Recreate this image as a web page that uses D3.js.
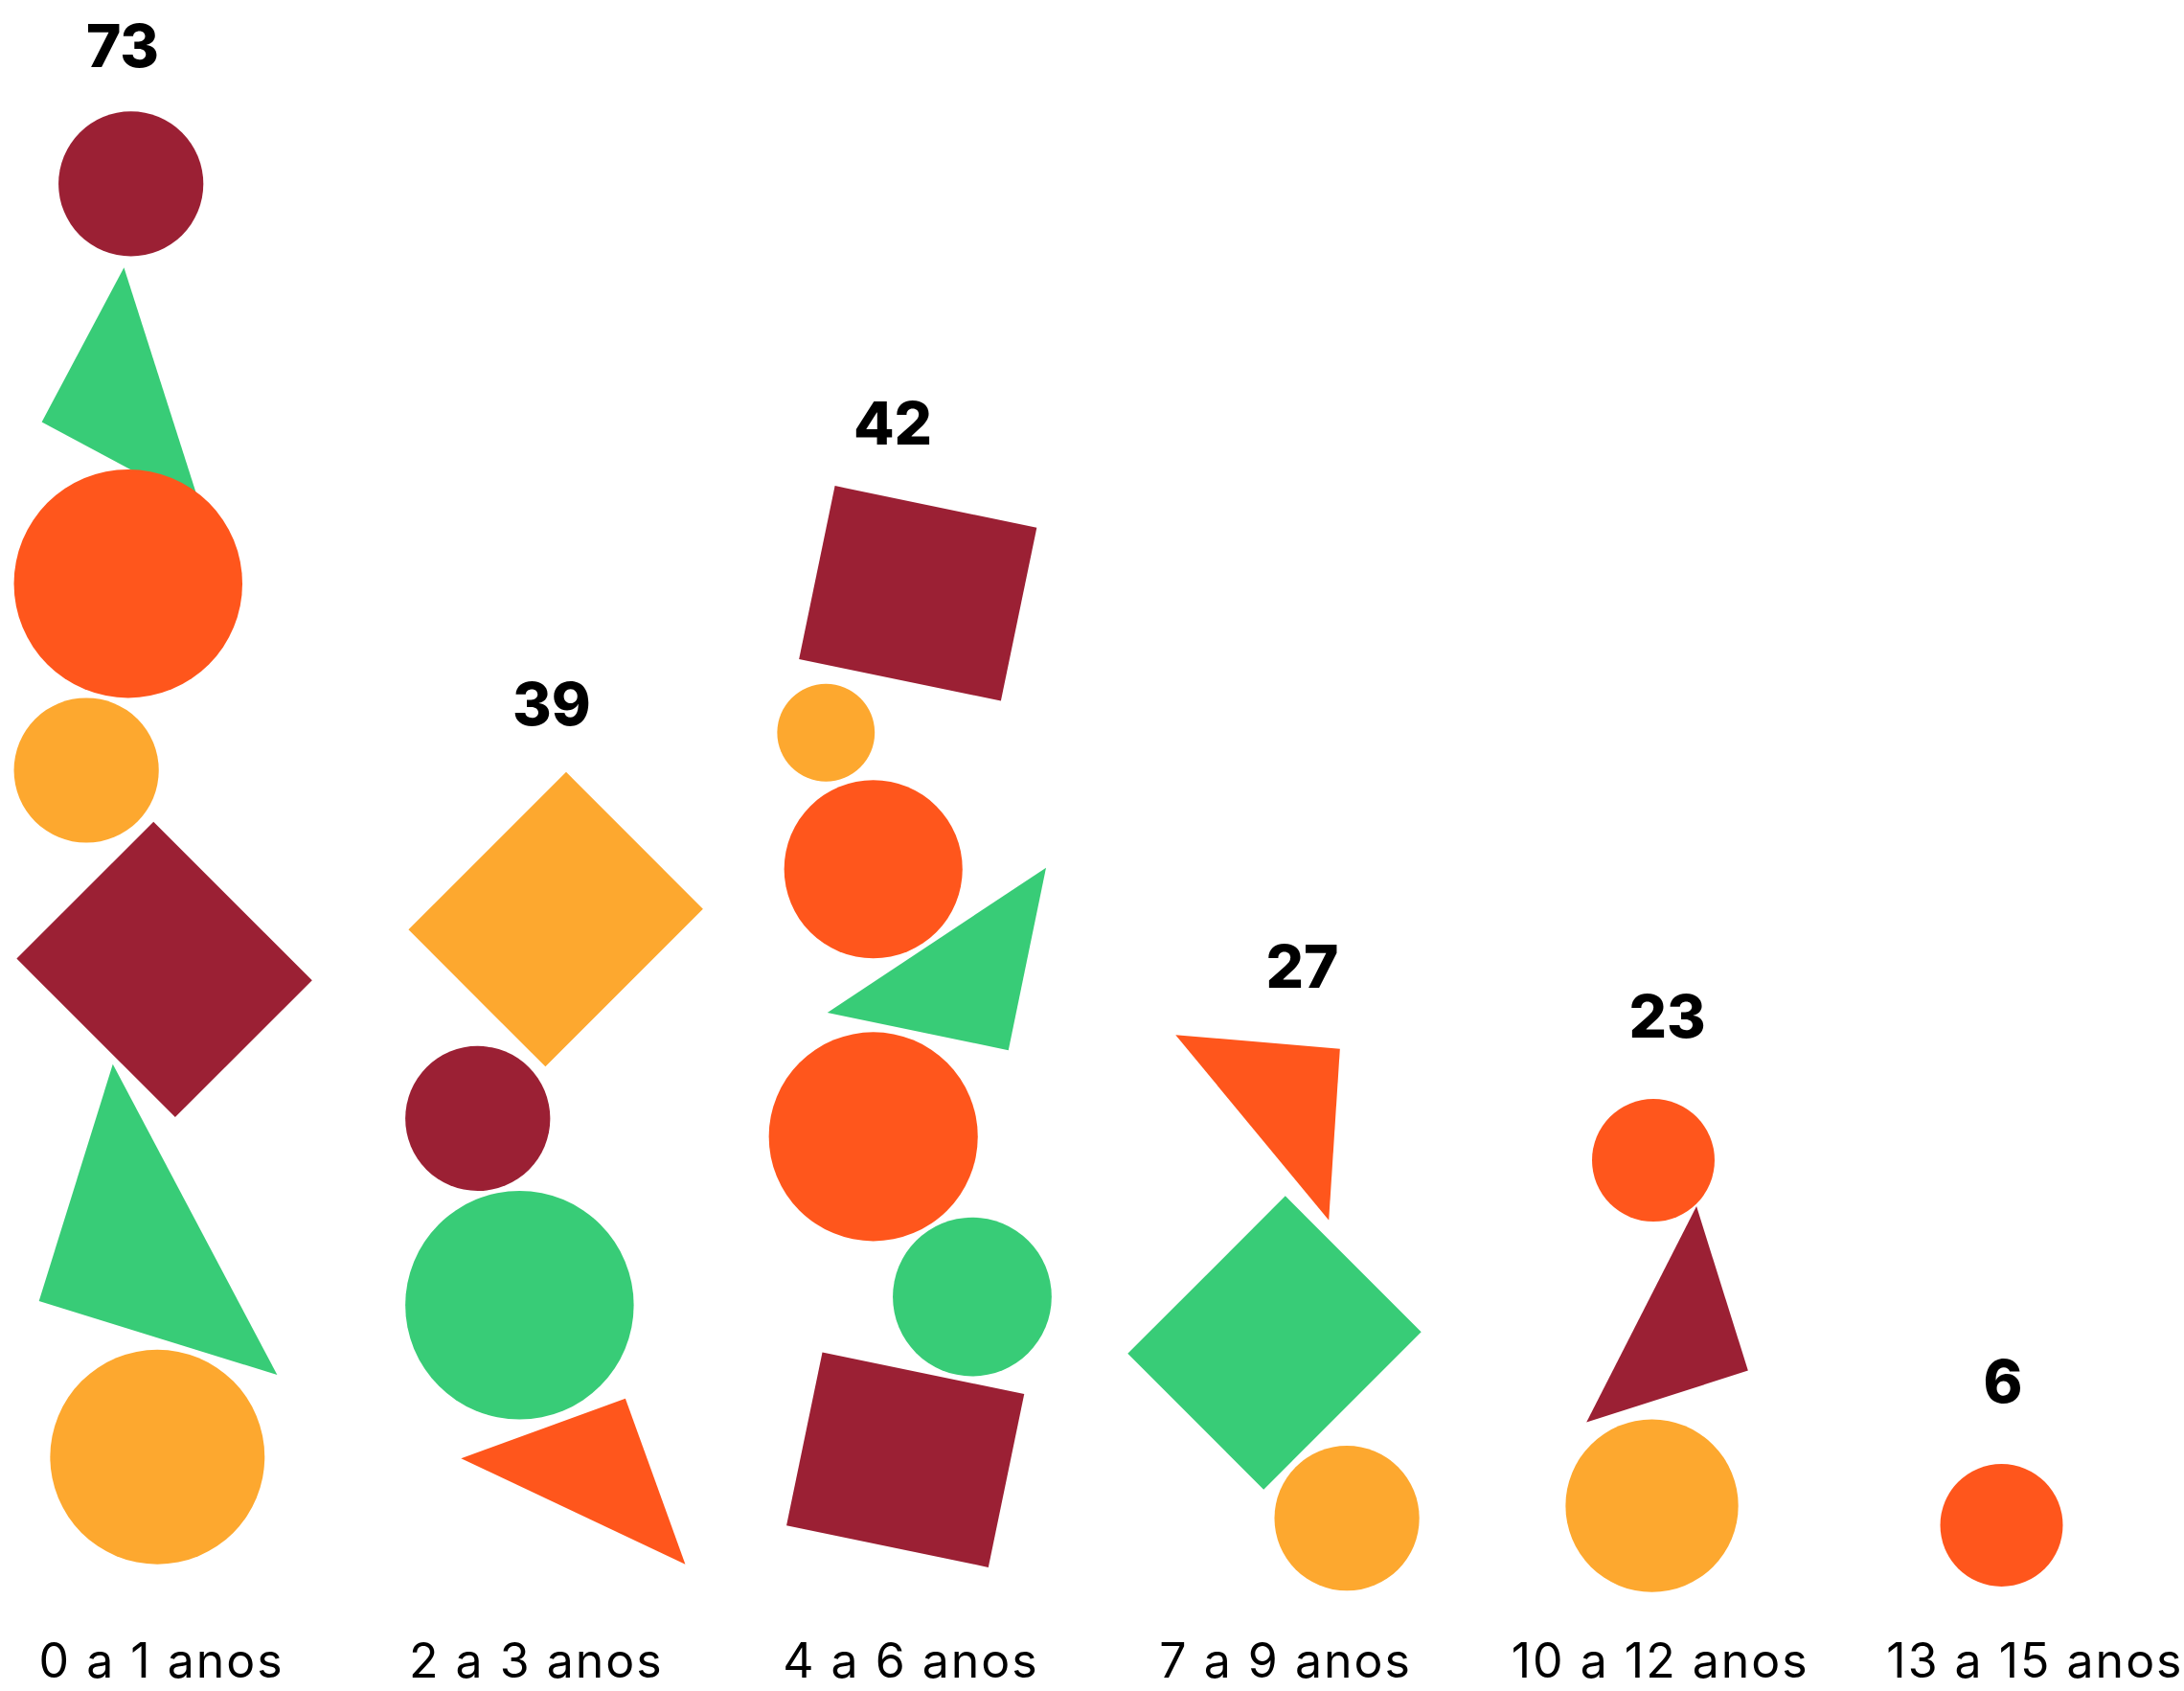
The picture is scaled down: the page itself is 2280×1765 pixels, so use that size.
<!DOCTYPE html>
<html>
<head>
<meta charset="utf-8">
<script src="https://cdn.jsdelivr.net/npm/d3@7"></script>
<style>
  html, body { margin: 0; padding: 0; background: #ffffff; }
  svg { display: block; }
</style>
</head>
<body>
<script>
// ---------- data ----------
const categories = ["0 a 1 anos", "2 a 3 anos", "4 a 6 anos", "7 a 9 anos", "10 a 12 anos", "13 a 15 anos"];
const totals = [73, 39, 42, 27, 23, 6];

const palette = { maroon: "#9b2034", orange: "#ff561c", yellow: "#fda82f", green: "#38cc77" };

// value label placement (offset from column centre, vertical centre) in reference units
const labelDx = [-28, 11, -13, 12, 5, -23];
const labelY = [32, 505, 303, 693, 729, 991];

// circles: category index, colour, offset from column centre, centre height, radius
const circles = [
  { c: 0, col: "maroon", dx: -22, y: 132, r: 52 },
  { c: 0, col: "orange", dx: -24, y: 419, r: 82 },
  { c: 0, col: "yellow", dx: -54, y: 553, r: 52 },
  { c: 0, col: "yellow", dx: -3, y: 1046, r: 77 },
  { c: 1, col: "maroon", dx: -42, y: 803, r: 52 },
  { c: 1, col: "green", dx: -12, y: 937, r: 82 },
  { c: 2, col: "yellow", dx: -61, y: 526, r: 35 },
  { c: 2, col: "orange", dx: -27, y: 624, r: 64 },
  { c: 2, col: "orange", dx: -27, y: 816, r: 75 },
  { c: 2, col: "green", dx: 44, y: 931, r: 57 },
  { c: 3, col: "yellow", dx: 44, y: 1090, r: 52 },
  { c: 4, col: "orange", dx: -5, y: 833, r: 44 },
  { c: 4, col: "yellow", dx: -6, y: 1081, r: 62 },
  { c: 5, col: "orange", dx: -24, y: 1095, r: 44 }
];

// rectangles: category, colour, centre offset, centre height, width, height, rotation (deg)
const rects = [
  { c: 0, col: "maroon", dx: 2, y: 696, w: 161, h: 139, rot: 45 },
  { c: 1, col: "yellow", dx: 14, y: 660, w: 139, h: 160, rot: 45 },
  { c: 2, col: "maroon", dx: 5, y: 426, w: 148, h: 127, rot: 11.7 },
  { c: 2, col: "maroon", dx: -4, y: 1048, w: 148, h: 127, rot: 11.7 },
  { c: 3, col: "green", dx: -8, y: 964, w: 138, h: 160, rot: 45 }
];

// triangles: category, colour, corners as [offset from column centre, height]
const triangles = [
  { c: 0, col: "green", pts: [[-27, 192], [-86, 303], [28, 364]] },
  { c: 0, col: "green", pts: [[-35, 764], [-88, 934], [83, 987]] },
  { c: 1, col: "orange", pts: [[-54, 1047], [64, 1004], [107, 1123]] },
  { c: 2, col: "green", pts: [[97, 623], [-60, 727], [70, 754]] },
  { c: 3, col: "orange", pts: [[-79, 743], [39, 753], [31, 876]] },
  { c: 4, col: "maroon", pts: [[26, 866], [63, 984], [-53, 1021]] }
];

// drawing order (top to bottom within each column)
const drawOrder = [
  ["circle", 0], ["tri", 0], ["circle", 1], ["circle", 2], ["rect", 0], ["tri", 1], ["circle", 3],
  ["rect", 1], ["circle", 4], ["circle", 5], ["tri", 2],
  ["rect", 2], ["circle", 6], ["circle", 7], ["tri", 3], ["circle", 8], ["circle", 9], ["rect", 3],
  ["tri", 4], ["rect", 4], ["circle", 10],
  ["circle", 11], ["tri", 5], ["circle", 12],
  ["circle", 13]
];

// ---------- layout ----------
const W = 2280, H = 1765;
const REF_W = 1568, REF_H = 1214;

const svg = d3.select("body").append("svg").attr("width", W).attr("height", H);

const xBand = d3.scaleBand().domain(categories).range([-18.5, 1595.5]).padding(0);
const sx = d3.scaleLinear().domain([0, REF_W]).range([0, W]);
const sy = d3.scaleLinear().domain([0, REF_H]).range([0, H]);
const k = W / REF_W;

const colX = i => xBand(categories[i]) + xBand.bandwidth() / 2;

const g = svg.append("g");

drawOrder.forEach(([kind, idx]) => {
  if (kind === "circle") {
    const d = circles[idx];
    g.append("circle")
      .attr("cx", sx(colX(d.c) + d.dx))
      .attr("cy", sy(d.y))
      .attr("r", d.r * k)
      .attr("fill", palette[d.col]);
  } else if (kind === "rect") {
    const d = rects[idx];
    const cx = sx(colX(d.c) + d.dx), cy = sy(d.y);
    g.append("rect")
      .attr("x", -d.w * k / 2)
      .attr("y", -d.h * k / 2)
      .attr("width", d.w * k)
      .attr("height", d.h * k)
      .attr("transform", `translate(${cx},${cy}) rotate(${d.rot})`)
      .attr("fill", palette[d.col]);
  } else {
    const d = triangles[idx];
    const pts = d.pts.map(p => [sx(colX(d.c) + p[0]), sy(p[1])]);
    g.append("path")
      .attr("d", d3.line()(pts) + "Z")
      .attr("fill", palette[d.col]);
  }
});

// value labels
svg.append("g").selectAll("text")
  .data(totals)
  .join("text")
  .attr("x", (d, i) => sx(colX(i) + labelDx[i]))
  .attr("y", (d, i) => sy(labelY[i]) + 23)
  .attr("text-anchor", "middle")
  .attr("font-family", "Inter, 'Noto Sans', sans-serif")
  .attr("font-weight", 800)
  .attr("font-size", 62)
  .attr("fill", "#000")
  .text(d => d);

// category labels
svg.append("g").selectAll("text")
  .data(categories)
  .join("text")
  .attr("x", (d, i) => sx(colX(i)))
  .attr("y", 1751)
  .attr("text-anchor", "middle")
  .attr("font-family", "Inter, 'Noto Sans', sans-serif")
  .attr("font-weight", 400)
  .attr("font-size", 50)
  .attr("letter-spacing", 2)
  .attr("fill", "#000")
  .text(d => d);
</script>
</body>
</html>
